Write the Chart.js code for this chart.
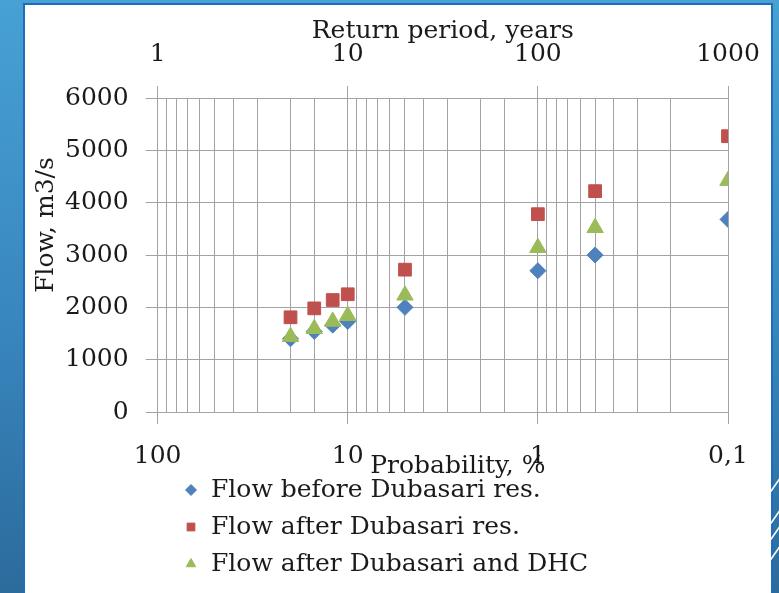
<!DOCTYPE html>
<html>
<head>
<meta charset="utf-8">
<script src="https://cdn.jsdelivr.net/npm/chart.js@4.4.0/dist/chart.umd.min.js"></script>
<style>
  html, body { margin: 0; padding: 0; }
  body {
    width: 779px; height: 593px; overflow: hidden; position: relative;
    background: linear-gradient(180deg, #47a1d3 0%, #3886bd 55%, #2c6b9c 100%);
  }
  #panel {
    position: absolute; left: 23px; top: 3px; width: 746px; height: 590px;
    background: #fff; border: 2px solid #1f6cbd; border-bottom: none;
  }
  .stripe { position: absolute; width: 2px; height: 16px; background: #fff; transform: skewX(-35deg); }
</style>
</head>
<body>
<div id="panel"><canvas id="flowChart" width="746" height="588"></canvas></div>
<div class="stripe" style="left:775px; top:476px;"></div>
<div class="stripe" style="left:775px; top:508px;"></div>
<div class="stripe" style="left:775px; top:524px;"></div>
<div class="stripe" style="left:775px; top:544px;"></div>
<script>
// probabilites (%) -> periode de retour = 100 / p
const probability = [20, 15, 12, 10, 5, 1, 0.5, 0.1];
const flowBefore = [1400, 1540, 1660, 1730, 2000, 2700, 3000, 3680];
const flowAfter = [1810, 1980, 2140, 2250, 2720, 3780, 4220, 5270];
const flowAfterDHC = [1440, 1590, 1730, 1840, 2230, 3140, 3520, 4420];
const probabilityLabels = { 100: '100', 10: '10', 1: '1', 0.1: '0,1' };
const returnLabels = { 1: '1', 10: '10', 100: '100', 1000: '1000' };
const yTicks = [0, 1000, 2000, 3000, 4000, 5000, 6000];

const textColor = '#1a1a1a';
const gridColor = '#a3a3a3';

Chart.defaults.font.family = '"DejaVu Serif", serif';
Chart.defaults.font.size = 25;
Chart.defaults.color = textColor;

function points(values) {
    return values.map((v, i) => ({ x: probability[i], y: v }));
}

function isDecade(v) {
    const l = Math.log10(v);
    return Math.abs(l - Math.round(l)) < 1e-6;
}

// on laisse le dernier label deborder a droite
function noRightPad(scale) {
    scale.paddingRight = 0;
}

// titres d'axes + legende dessines a la main (ils se chevauchent comme sur l'original)
const extras = {
    id: 'extras',
    afterDraw(chart) {
        const ctx = chart.ctx;
        const area = chart.chartArea;
        ctx.save();
        ctx.fillStyle = textColor;
        ctx.font = '25px "DejaVu Serif"';
        ctx.textAlign = 'center';
        ctx.textBaseline = 'alphabetic';
        ctx.fillText('Return period, years', (area.left + area.right) / 2, 33);
        ctx.fillText('Probability, %', (area.left + area.right) / 2 + 15, 468);

        ctx.save();
        ctx.translate(21, 220);
        ctx.rotate(-Math.PI / 2);
        ctx.textBaseline = 'middle';
        ctx.fillText('Flow, m3/s', 0, 0);
        ctx.restore();

        chart.data.datasets.forEach((ds, i) => {
            const y = 485 + i * 37;
            ctx.fillStyle = ds.backgroundColor;
            ctx.strokeStyle = ds.borderColor;
            ctx.lineWidth = 1;
            Chart.helpers.drawPoint(ctx, { pointStyle: ds.pointStyle, radius: 5.5, borderWidth: 1, rotation: 0 }, 166, y);
            ctx.fillStyle = textColor;
            ctx.textAlign = 'left';
            ctx.textBaseline = 'middle';
            ctx.fillText(ds.label, 186, y);
        });
        ctx.restore();
    }
};

new Chart(document.getElementById('flowChart'), {
    type: 'scatter',
    data: {
        datasets: [{
            label: 'Flow before Dubasari res.',
            data: points(flowBefore),
            pointStyle: 'rectRot',
            pointRadius: 8,
            backgroundColor: '#4f81bd',
            borderColor: '#4f81bd',
            order: 3
        }, {
            label: 'Flow after Dubasari res.',
            data: points(flowAfter),
            pointStyle: 'rect',
            pointRadius: 9,
            backgroundColor: '#c0504d',
            borderColor: '#c0504d',
            order: 2
        }, {
            label: 'Flow after Dubasari and DHC',
            data: points(flowAfterDHC),
            pointStyle: 'triangle',
            pointRadius: 9.5,
            backgroundColor: '#9bbb59',
            borderColor: '#9bbb59',
            order: 1
        }]
    },
    options: {
        responsive: false,
        animation: false,
        layout: { padding: { left: 23, right: 43, top: 17, bottom: 105 } },
        plugins: { legend: { display: false }, tooltip: { enabled: false } },
        scales: {
            x: {
                type: 'logarithmic',
                position: 'bottom',
                reverse: true,
                min: 0.1,
                max: 100,
                afterFit: noRightPad,
                grid: {
                    color: gridColor,
                    tickLength: 12,
                    tickColor: (c) => isDecade(c.tick.value) ? gridColor : 'rgba(0,0,0,0)'
                },
                border: { color: gridColor },
                ticks: {
                    autoSkip: false,
                    maxRotation: 0,
                    padding: 17,
                    callback: (v) => isDecade(v) ? probabilityLabels[Math.round(Math.log10(v) * 10) / 10 === -1 ? 0.1 : Math.round(v)] : ''
                }
            },
            x2: {
                type: 'logarithmic',
                position: 'top',
                min: 1,
                max: 1000,
                afterFit: noRightPad,
                grid: {
                    drawOnChartArea: false,
                    tickLength: 12,
                    tickColor: (c) => isDecade(c.tick.value) ? gridColor : 'rgba(0,0,0,0)'
                },
                border: { display: false },
                ticks: {
                    autoSkip: false,
                    maxRotation: 0,
                    padding: 17,
                    callback: (v) => isDecade(v) ? returnLabels[Math.round(v)] : ''
                }
            },
            y: {
                min: 0,
                max: 6000,
                afterBuildTicks: (scale) => { scale.ticks = yTicks.map(v => ({ value: v })); },
                grid: { color: gridColor, tickLength: 12 },
                border: { color: gridColor },
                ticks: { padding: 17, callback: (v) => String(v) }
            }
        }
    },
    plugins: [extras]
});
</script>
</body>
</html>
